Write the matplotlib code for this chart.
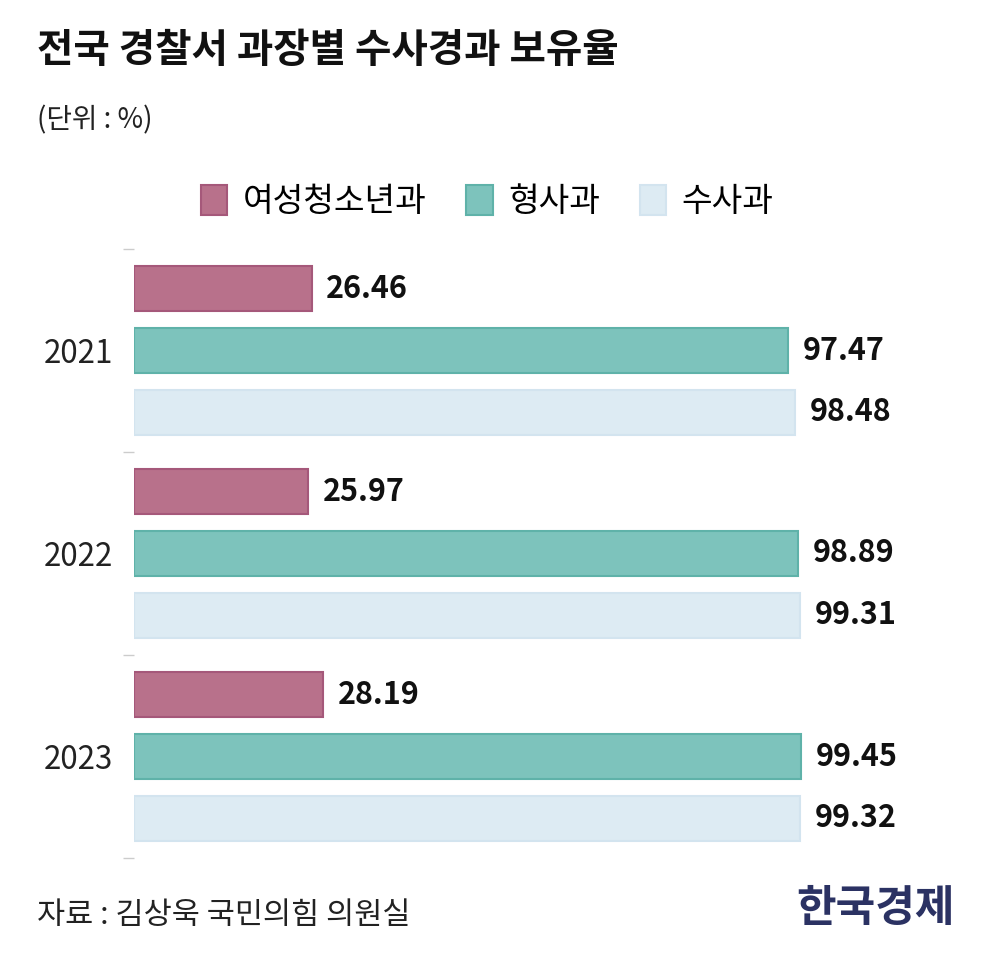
import numpy as np
import matplotlib
matplotlib.use("Agg")
import matplotlib.pyplot as plt

plt.rcParams['font.family'] = ['Noto Sans CJK KR', 'DejaVu Sans']

# data
years = ['2021', '2022', '2023']
series = ['여성청소년과', '형사과', '수사과']
women_youth = [26.46, 25.97, 28.19]
criminal = [97.47, 98.89, 99.45]
investigation = [98.48, 99.31, 99.32]

values = [women_youth, criminal, investigation]
faces = ['#b8718b', '#7dc3bc', '#ddebf3']
edges = ['#a5587a', '#5fb2a9', '#d3e4ef']

fig = plt.figure(figsize=(10.08, 9.68), dpi=100)
ax = fig.add_axes([134 / 1008, 1 - 858 / 968, (965 - 134) / 1008, (858 - 249) / 968])

y = np.arange(len(years))
step = 0.305
height = 0.222
for i, (vals, fc, ec) in enumerate(zip(values, faces, edges)):
    pos = y + (i - 1) * step
    bars = ax.barh(pos, vals, height=height, color=fc, edgecolor=ec,
                   linewidth=1.5, label=series[i])
    for b, v in zip(bars, vals):
        ax.text(b.get_width() + 2.2, b.get_y() + b.get_height() / 2,
                f'{v:.2f}', va='center', ha='left', fontsize=22,
                fontweight='bold', color='#111111')

ax.set_xlim(0, (965 - 134) / 6.71)
ax.set_ylim(len(years) - 0.5, -0.5)
ax.set_yticks(y)
ax.set_yticklabels(years, fontsize=22.5, color='#222222')
ax.tick_params(axis='y', which='major', length=0, pad=15)
ax.set_yticks(np.arange(len(years) + 1) - 0.5, minor=True)
ax.tick_params(axis='y', which='minor', length=8, width=1, color='#cccccc')
ax.set_xticks([])
for s in ax.spines.values():
    s.set_visible(False)

# legend
fig.legend(loc='center', bbox_to_anchor=(487 / 1008, 1 - 202 / 968), ncol=3,
           frameon=False, fontsize=24, handlelength=0.8, handleheight=1.0,
           handletextpad=0.45, columnspacing=1.2)

fig.text(37 / 1008, 1 - 50 / 968, '전국 경찰서 과장별 수사경과 보유율',
         fontsize=28.5, fontweight='bold', va='center', ha='left', color='#111111')
fig.text(37 / 1008, 1 - 120 / 968, '(단위 : %)', fontsize=20,
         va='center', ha='left', color='#222222')
fig.text(37 / 1008, 1 - 915 / 968, '자료 : 김상욱 국민의힘 의원실', fontsize=22,
         va='center', ha='left', color='#222222')
fig.text(955 / 1008, 1 - 908 / 968, '한국경제', fontsize=31, fontweight='bold',
         va='center', ha='right', color='#2b3263')

fig.savefig('out.png', dpi=100, facecolor='white')
